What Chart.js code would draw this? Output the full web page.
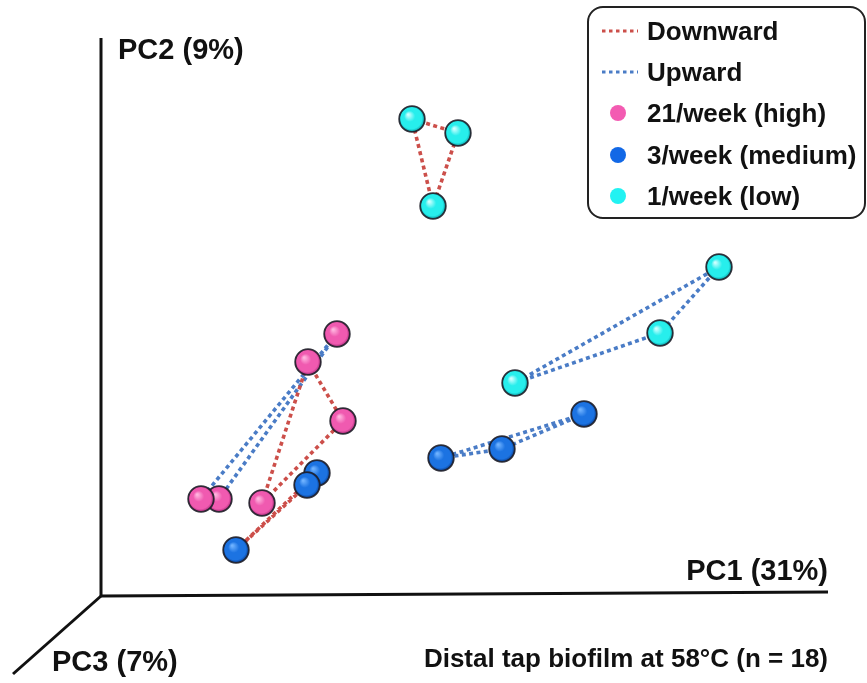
<!DOCTYPE html>
<html><head><meta charset="utf-8">
<script src="https://cdn.jsdelivr.net/npm/chart.js@4"></script>
<style>html,body{margin:0;padding:0;background:#fff}#c{display:block}</style>
</head><body>
<canvas id="c" width="867" height="683"></canvas>
<script>
// ---- data (scores in projected plot units, origin at axis corner) ----
const groups = ['21/week (high)', '3/week (medium)', '1/week (low)'];
const trendLabels = ['Downward', 'Upward'];
const axisTitles = ['PC1 (31%)', 'PC2 (9%)', 'PC3 (7%)'];
const caption = 'Distal tap biofilm at 58\u00B0C (n = 18)';

const highPC1 = [118, 100, 236, 207, 242, 161];
const highPC2 = [97, 97, 262, 234, 175, 93];
const mediumPC1 = [216, 206, 135, 483, 401, 340];
const mediumPC2 = [123, 111, 46, 182, 147, 138];
const lowPC1 = [311, 357, 332, 618, 559, 414];
const lowPC2 = [477, 463, 390, 329, 263, 213];

// triangles (indices into each group) linked by trend
const highDownward = [3, 4, 5];
const highUpward = [2, 1, 0];
const mediumDownward = [0, 1, 2];
const mediumUpward = [3, 4, 5];
const lowDownward = [0, 1, 2];
const lowUpward = [3, 4, 5];

// projected axis frame (PC1, PC2, PC3 directions)
const axisPC1 = [[0, 0], [727, 4]];
const axisPC2 = [[0, 0], [0, 558]];
const axisPC3 = [[0, 0], [-88, -78]];

// ---- styling ----
const FONT = '"Liberation Sans", Arial, Helvetica, sans-serif';
const RED = '#CC4F4A', BLUE = '#4A7CC6';
const legendDot = ['#F35BB2', '#1268E6', '#22F2F2'];
const sphereCols = [
  ['#FFB5DF', '#F05AB0', '#A82A78'],
  ['#6FB2FF', '#1C73E2', '#0A3D8E'],
  ['#CCFFFF', '#27EEEC', '#0B9CA4']
];

function sphere(c, r) {
  const cv = document.createElement('canvas');
  const s = Math.ceil(r * 2 + 4);
  cv.width = cv.height = s;
  const g = cv.getContext('2d');
  const cx = s / 2, cy = s / 2;
  const grad = g.createRadialGradient(cx - r * 0.3, cy - r * 0.35, r * 0.05, cx, cy, r);
  grad.addColorStop(0, c[0]);
  grad.addColorStop(0.4, c[1]);
  grad.addColorStop(0.82, c[1]);
  grad.addColorStop(1, c[2]);
  g.beginPath(); g.arc(cx, cy, r, 0, Math.PI * 2);
  g.fillStyle = grad; g.fill();
  g.lineWidth = 1.8; g.strokeStyle = 'rgba(30,30,40,0.9)'; g.stroke();
  return cv;
}

function pts(xs, ys) { return xs.map((x, i) => ({x, y: ys[i]})); }
function tri(xs, ys, idx) { const a = idx.concat([idx[0]]); return a.map(i => ({x: xs[i], y: ys[i]})); }
function seg(a) { return a.map(p => ({x: p[0], y: p[1]})); }

const datasets = [];
[[highPC1, highPC2], [mediumPC1, mediumPC2], [lowPC1, lowPC2]].forEach((g, k) => {
  datasets.push({
    type: 'scatter', label: groups[k], data: pts(g[0], g[1]), order: 0,
    pointStyle: sphere(sphereCols[k], 12.8), pointRadius: 13, showLine: false
  });
});
const triList = [
  [highPC1, highPC2, highDownward, RED, 0], [highPC1, highPC2, highUpward, BLUE, 1],
  [mediumPC1, mediumPC2, mediumDownward, RED, 0], [mediumPC1, mediumPC2, mediumUpward, BLUE, 1],
  [lowPC1, lowPC2, lowDownward, RED, 0], [lowPC1, lowPC2, lowUpward, BLUE, 1]
];
triList.forEach(t => {
  datasets.push({
    type: 'line', label: trendLabels[t[4]], data: tri(t[0], t[1], t[2]), order: 1,
    borderColor: t[3], borderWidth: 3.6, borderDash: [4, 3.4], borderCapStyle: 'butt',
    pointRadius: 0, fill: false, tension: 0
  });
});
[axisPC1, axisPC2, axisPC3].forEach(a => {
  datasets.push({
    type: 'line', label: 'axis', data: seg(a), order: 2,
    borderColor: '#111', borderWidth: 3, pointRadius: 0, fill: false, borderCapStyle: 'butt'
  });
});

const textPlugin = {
  id: 'texts',
  afterDraw(chart) {
    const ctx = chart.ctx;
    ctx.save();
    ctx.fillStyle = '#111';
    ctx.textBaseline = 'alphabetic';
    ctx.font = 'bold 29px ' + FONT;
    ctx.textAlign = 'right'; ctx.fillText(axisTitles[0], 828, 580);
    ctx.textAlign = 'left'; ctx.fillText(axisTitles[1], 118, 59);
    ctx.fillText(axisTitles[2], 52, 671);
    ctx.font = 'bold 26px ' + FONT;
    ctx.textAlign = 'right'; ctx.fillText(caption, 828, 667);

    // legend
    ctx.beginPath();
    ctx.roundRect(588, 7, 277, 211, 15);
    ctx.fillStyle = '#fff'; ctx.fill();
    ctx.lineWidth = 2; ctx.strokeStyle = '#222'; ctx.stroke();
    const rows = [31, 72, 113, 155, 196];
    ctx.font = 'bold 26px ' + FONT;
    ctx.textAlign = 'left';
    const labels = trendLabels.concat(groups);
    labels.forEach((lab, i) => {
      const y = rows[i];
      if (i < 2) {
        ctx.save();
        ctx.beginPath(); ctx.setLineDash([3.5, 3.5]);
        ctx.lineWidth = 3; ctx.strokeStyle = i === 0 ? RED : BLUE;
        ctx.moveTo(602, y); ctx.lineTo(638, y); ctx.stroke();
        ctx.restore();
      } else {
        ctx.beginPath(); ctx.arc(618, y, 8, 0, Math.PI * 2);
        ctx.fillStyle = legendDot[i - 2]; ctx.fill();
      }
      ctx.fillStyle = '#111';
      ctx.fillText(lab, 647, y + 9);
    });
    ctx.restore();
  }
};

new Chart(document.getElementById('c'), {
  type: 'scatter',
  data: {datasets},
  options: {
    responsive: false, animation: false, devicePixelRatio: 1,
    layout: {padding: 0, autoPadding: false},
    plugins: {legend: {display: false}, tooltip: {enabled: false}},
    scales: {
      x: {type: 'linear', display: false, min: -101, max: 766},
      y: {type: 'linear', display: false, min: -87, max: 596}
    }
  },
  plugins: [textPlugin]
});
</script>
</body></html>
